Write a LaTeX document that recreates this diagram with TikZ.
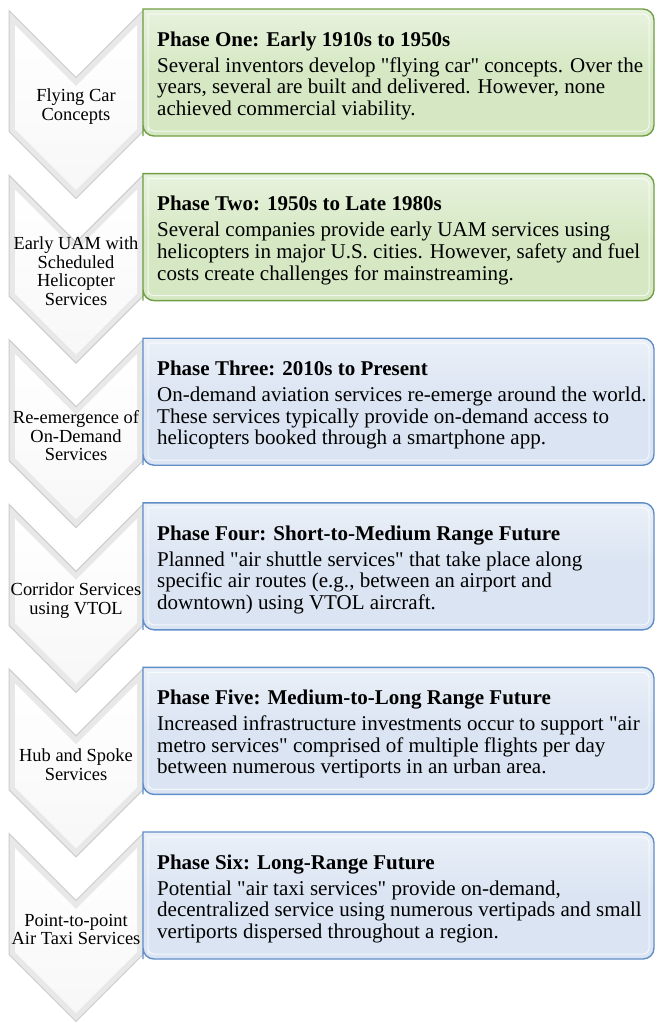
\documentclass[tikz,border=0pt]{standalone}
\usepackage{fontspec}
\setmainfont{Liberation Serif}
\definecolor{greenfill}{RGB}{213,232,195}
\definecolor{greenline}{RGB}{112,158,68}
\definecolor{bluefill}{RGB}{218,228,242}
\definecolor{blueline}{RGB}{96,142,200}
\newcommand{\q}{\textquotedbl}
\begin{document}
\begin{tikzpicture}[x=1bp,y=-1bp]

        % Styles
        \tikzstyle{chevron}=[fill=black!9,draw=black!20,line width=1bp]
        \tikzstyle{chevron bevel}=[top color=white,bottom color=black!3,draw=none]
        \tikzstyle{chevron text}=[align=center,inner sep=0pt,font=\fontsize{18.5}{18.7}\selectfont]
        \tikzstyle{box bevel}=[draw=white,opacity=0.7,line width=1bp]
        \tikzstyle{phase text}=[anchor=north west,align=left,inner sep=0pt,font=\fontsize{21.1}{21.7}\selectfont]
        %The graphic
        \useasboundingbox (0,0) rectangle (657,1023);
        %chevrons
        \foreach \i/\ctext in {0/{Flying Car\\Concepts},
                               1/{Early UAM with\\Scheduled\\Helicopter\\Services},
                               2/{Re-emergence of\\On-Demand\\Services},
                               3/{Corridor Services\\using VTOL},
                               4/{Hub and Spoke\\Services},
                               5/{Point-to-point\\Air Taxi Services}}
        {
            \begin{scope}[shift={(0,10.5+164.6*\i)}]
                \draw[chevron] (9,0) -- (76,67) -- (143,0) -- (143,121) -- (76,188) -- (9,121) -- cycle;
                \path[chevron bevel] (15,14.5) -- (76,75.5) -- (137,14.5) -- (137,118.5) -- (76,179.5) -- (15,118.5) -- cycle;
                \node[chevron text] (step\i) at (76,96) {\ctext};
            \end{scope}
        }
        %phase boxes
        \foreach \i/\cfill/\cline/\ptitle/\ptext in {
            0/greenfill/greenline/{Phase One: Early 1910s to 1950s}/{Several inventors develop \q flying car\q{} concepts. Over the\\years, several are built and delivered. However, none\\achieved commercial viability.},
            1/greenfill/greenline/{Phase Two: 1950s to Late 1980s}/{Several companies provide early UAM services using\\helicopters in major U.S. cities. However, safety and fuel\\costs create challenges for mainstreaming.},
            2/bluefill/blueline/{Phase Three: 2010s to Present}/{On-demand aviation services re-emerge around the world.\\These services typically provide on-demand access to\\helicopters booked through a smartphone app.},
            3/bluefill/blueline/{Phase Four: Short-to-Medium Range Future}/{Planned \q air shuttle services\q{} that take place along\\specific air routes (e.g., between an airport and\\downtown) using VTOL aircraft.},
            4/bluefill/blueline/{Phase Five: Medium-to-Long Range Future}/{Increased infrastructure investments occur to support \q air\\metro services\q{} comprised of multiple flights per day\\between numerous vertiports in an urban area.},
            5/bluefill/blueline/{Phase Six: Long-Range Future}/{Potential \q air taxi services\q{} provide on-demand,\\decentralized service using numerous vertipads and small\\vertiports dispersed throughout a region.}}
        {
            \begin{scope}[shift={(0,9+164.6*\i)}]
                \path[draw=\cline,line width=1.4bp,top color=\cfill!55!white,bottom color=\cfill,middle color=\cfill]
                    (143,127) -- (143,0) [rounded corners=11bp] -- (654,0) -- (654,127) -- (143,127) [sharp corners] -- cycle;
                \draw[box bevel] (148,122) -- (148,5) [rounded corners=6bp] -- (649,5) -- (649,122) -- (148,122) [sharp corners] -- cycle;
                \node[phase text] (phase\i) at (157,22.5) {\textbf{\ptitle}\\[4.3bp]\ptext};
            \end{scope}
        }
\end{tikzpicture}
\end{document}
